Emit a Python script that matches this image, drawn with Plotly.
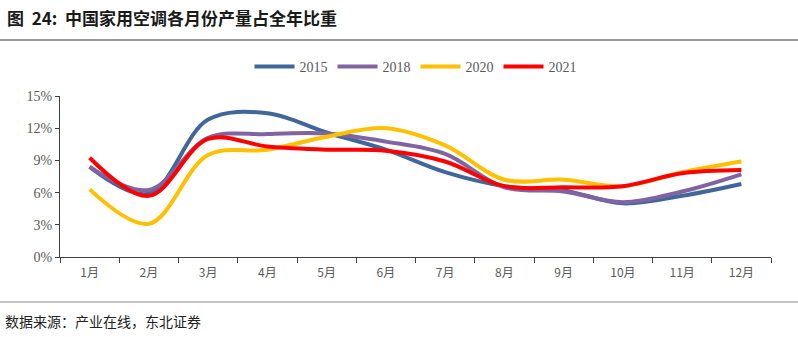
import plotly.graph_objects as go

months = ["1月", "2月", "3月", "4月", "5月", "6月", "7月", "8月", "9月", "10月", "11月", "12月"]
y2015 = [8.4, 5.9, 12.8, 13.4, 11.6, 10.0, 7.9, 6.6, 6.2, 5.0, 5.7, 6.8]
y2018 = [8.4, 6.25, 11.1, 11.45, 11.5, 10.75, 9.6, 6.5, 6.1, 5.1, 6.1, 7.7]
y2020 = [6.3, 3.1, 9.5, 10.0, 11.2, 12.0, 10.4, 7.2, 7.2, 6.6, 7.9, 8.9]
y2021 = [9.25, 5.7, 11.0, 10.3, 10.0, 9.9, 8.9, 6.6, 6.5, 6.6, 7.8, 8.1]

series = [
    ("2015", y2015, "#41679A"),
    ("2018", y2018, "#8064A2"),
    ("2020", y2020, "#FFC000"),
    ("2021", y2021, "#FF0000"),
]

fig = go.Figure()
for name, vals, color in series:
    fig.add_trace(go.Scatter(
        x=months, y=vals, name=name, mode="lines",
        line=dict(color=color, width=4, shape="spline", smoothing=1.0),
    ))

serif = "Liberation Serif, Noto Sans CJK SC, serif"
PW = 711.0
PH = 161.0
fig.update_layout(
    width=798, height=337,
    margin=dict(l=60, r=27, t=96, b=80),
    paper_bgcolor="white", plot_bgcolor="white",
    font=dict(family=serif, color="#595959", size=13),
    showlegend=True,
    legend=dict(orientation="h", x=0.5, xanchor="center", y=1.0 + (96 - 67) / PH, yanchor="middle",
                font=dict(family=serif, size=14, color="#595959"),
                itemwidth=40, traceorder="normal"),
    xaxis=dict(
        type="category", range=[-0.5, 11.5],
        showline=True, linecolor="#404040", linewidth=1,
        ticks="outside", tickson="boundaries", ticklen=5, tickcolor="#404040",
        ticklabelstandoff=5,
        showgrid=False, tickfont=dict(family="Noto Sans CJK SC, " + serif, size=12, color="#595959"),
    ),
    yaxis=dict(
        range=[0, 15], dtick=3, ticksuffix="%",
        showline=True, linecolor="#404040", linewidth=1,
        ticks="outside", ticklen=4, tickcolor="#404040",
        showgrid=False, zeroline=False,
        tickfont=dict(family=serif, size=14, color="#595959"),
    ),
)

fig.add_annotation(
    text="<b>图  24:  中国家用空调各月份产量占全年比重</b>",
    xref="paper", yref="paper", xanchor="left", yanchor="middle",
    x=-55 / PW, y=1 + (96 - 17) / PH,
    showarrow=False, font=dict(family="Noto Sans CJK SC, " + serif, size=17, color="#1a1a1a"),
)
fig.add_annotation(
    text="数据来源：产业在线，东北证券",
    xref="paper", yref="paper", xanchor="left", yanchor="middle",
    x=-57 / PW, y=-(321 - 257) / PH,
    showarrow=False, font=dict(family="Noto Sans CJK SC, " + serif, size=14, color="#222222"),
)
fig.add_shape(type="line", xref="paper", yref="paper",
              x0=-60 / PW, x1=(798 - 60) / PW, y0=1 + (96 - 40) / PH, y1=1 + (96 - 40) / PH,
              line=dict(color="#333333", width=1.2))
fig.add_shape(type="line", xref="paper", yref="paper",
              x0=-60 / PW, x1=(798 - 60) / PW, y0=-(302 - 257) / PH, y1=-(302 - 257) / PH,
              line=dict(color="#888888", width=1))

fig.write_html("out.html")
